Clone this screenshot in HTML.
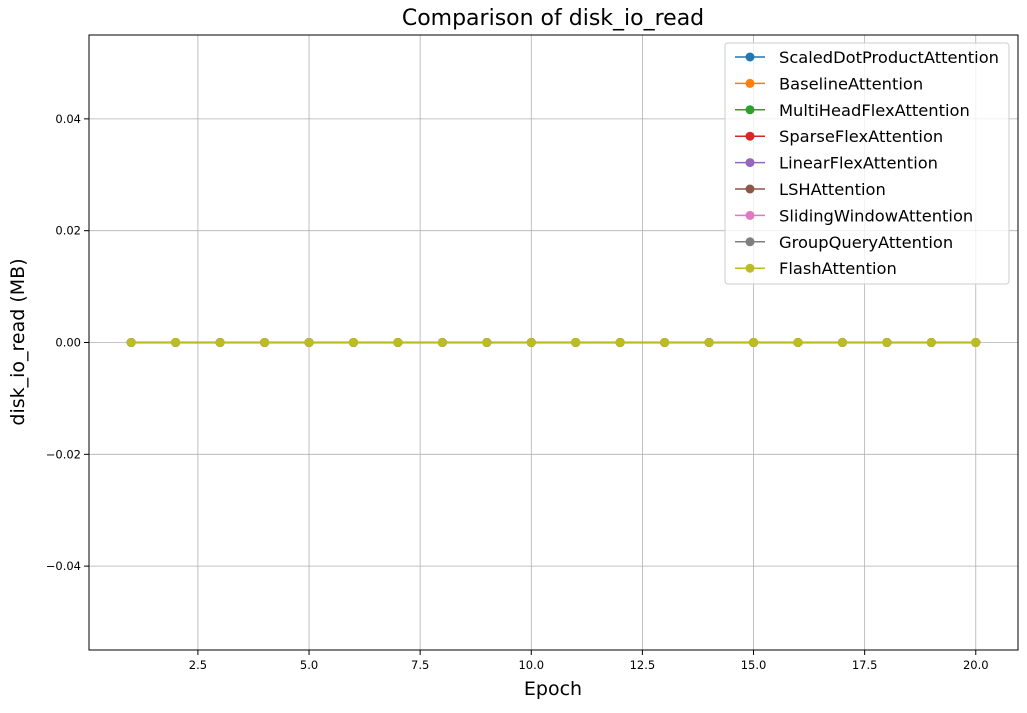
<!DOCTYPE html>
<html><head><meta charset="utf-8"><style>body{margin:0;background:#fff}svg{font-family:"DejaVu Sans","Liberation Sans",sans-serif}</style></head>
<body>
<svg id="c" width="1027" height="708" viewBox="0 0 1027 708" xmlns="http://www.w3.org/2000/svg">
<rect width="1027" height="708" fill="#fff"/>
<g id="grid"></g><g id="series"></g><g id="axes"></g><g id="legend"></g>
<text x="553" y="25" font-size="22" text-anchor="middle">Comparison of disk_io_read</text>
<text x="553" y="695" font-size="19" text-anchor="middle">Epoch</text>
<text transform="translate(24,342) rotate(-90)" font-size="19" text-anchor="middle">disk_io_read (MB)</text>
</svg>
<script>
const seriesNames=["ScaledDotProductAttention","BaselineAttention","MultiHeadFlexAttention","SparseFlexAttention","LinearFlexAttention","LSHAttention","SlidingWindowAttention","GroupQueryAttention","FlashAttention"];
const colors=["#1f77b4","#ff7f0e","#2ca02c","#d62728","#9467bd","#8c564b","#e377c2","#7f7f7f","#bcbd22"];
const epochs=[1,2,3,4,5,6,7,8,9,10,11,12,13,14,15,16,17,18,19,20];
const values=[0,0,0,0,0,0,0,0,0,0,0,0,0,0,0,0,0,0,0,0];
const xTicks=[2.5,5.0,7.5,10.0,12.5,15.0,17.5,20.0];
const yTicks=[-0.04,-0.02,0.00,0.02,0.04];
const L=89,R=1018,T=35,B=650;
const xmin=0.05,xmax=20.95,ymin=-0.055,ymax=0.055;
const X=v=>L+(v-xmin)/(xmax-xmin)*(R-L);
const Y=v=>B-(v-ymin)/(ymax-ymin)*(B-T);
const NS="http://www.w3.org/2000/svg";
function mk(p,t,a){const e=document.createElementNS(NS,t);for(const k in a)e.setAttribute(k,a[k]);p.appendChild(e);return e;}
const g=document.getElementById('grid'),ax=document.getElementById('axes'),s=document.getElementById('series'),lg=document.getElementById('legend');
xTicks.forEach(v=>{
 const l=mk(g,'line',{x1:X(v),x2:X(v),y1:T,y2:B,stroke:'#b0b0b0','stroke-width':0.8});
 
 
 mk(ax,'line',{x1:X(v),x2:X(v),y1:B,y2:B+5,stroke:'#000'});
 const t=mk(ax,'text',{x:X(v),y:B+19,'font-size':11.5,'text-anchor':'middle'});t.textContent=v.toFixed(1);
 
 
});
yTicks.forEach(v=>{
 const l=mk(g,'line',{x1:L,x2:R,y1:Y(v),y2:Y(v),stroke:'#b0b0b0','stroke-width':0.8});
 
 
 mk(ax,'line',{x1:L-5,x2:L,y1:Y(v),y2:Y(v),stroke:'#000'});
 const t=mk(ax,'text',{x:L-8,y:Y(v)+4,'font-size':11.5,'text-anchor':'end'});t.textContent=(v<0?'\u2212':'')+Math.abs(v).toFixed(2);
 
 
});
const frame=mk(ax,'rect',{x:L,y:T,width:R-L,height:B-T,fill:'none',stroke:'#000','stroke-width':1});


seriesNames.forEach((n,i)=>{
 const pts=epochs.map((e,j)=>X(e)+','+Y(values[j])).join(' ');
 const pl=mk(s,'polyline',{points:pts,fill:'none',stroke:colors[i],'stroke-width':1.5});
 
 
 epochs.forEach((e,j)=>{
  const c=mk(s,'circle',{cx:X(e),cy:Y(values[j]),r:4.5,fill:colors[i]});
  
  
 });
});
const box=mk(lg,'rect',{x:725,y:43,width:284,height:241,rx:3,fill:'#fff','fill-opacity':0.8,stroke:'#ccc'});


seriesNames.forEach((n,i)=>{
 const y=57+i*26.4;
 const ge=mk(lg,'g',{});
 
 
 mk(ge,'line',{x1:735,x2:765,y1:y,y2:y,stroke:colors[i],'stroke-width':1.5});
 mk(ge,'circle',{cx:750,cy:y,r:4.5,fill:colors[i]});
 const t=mk(ge,'text',{x:779,y:y+6,'font-size':16.3});t.textContent=n;
});
</script>
</body></html>
